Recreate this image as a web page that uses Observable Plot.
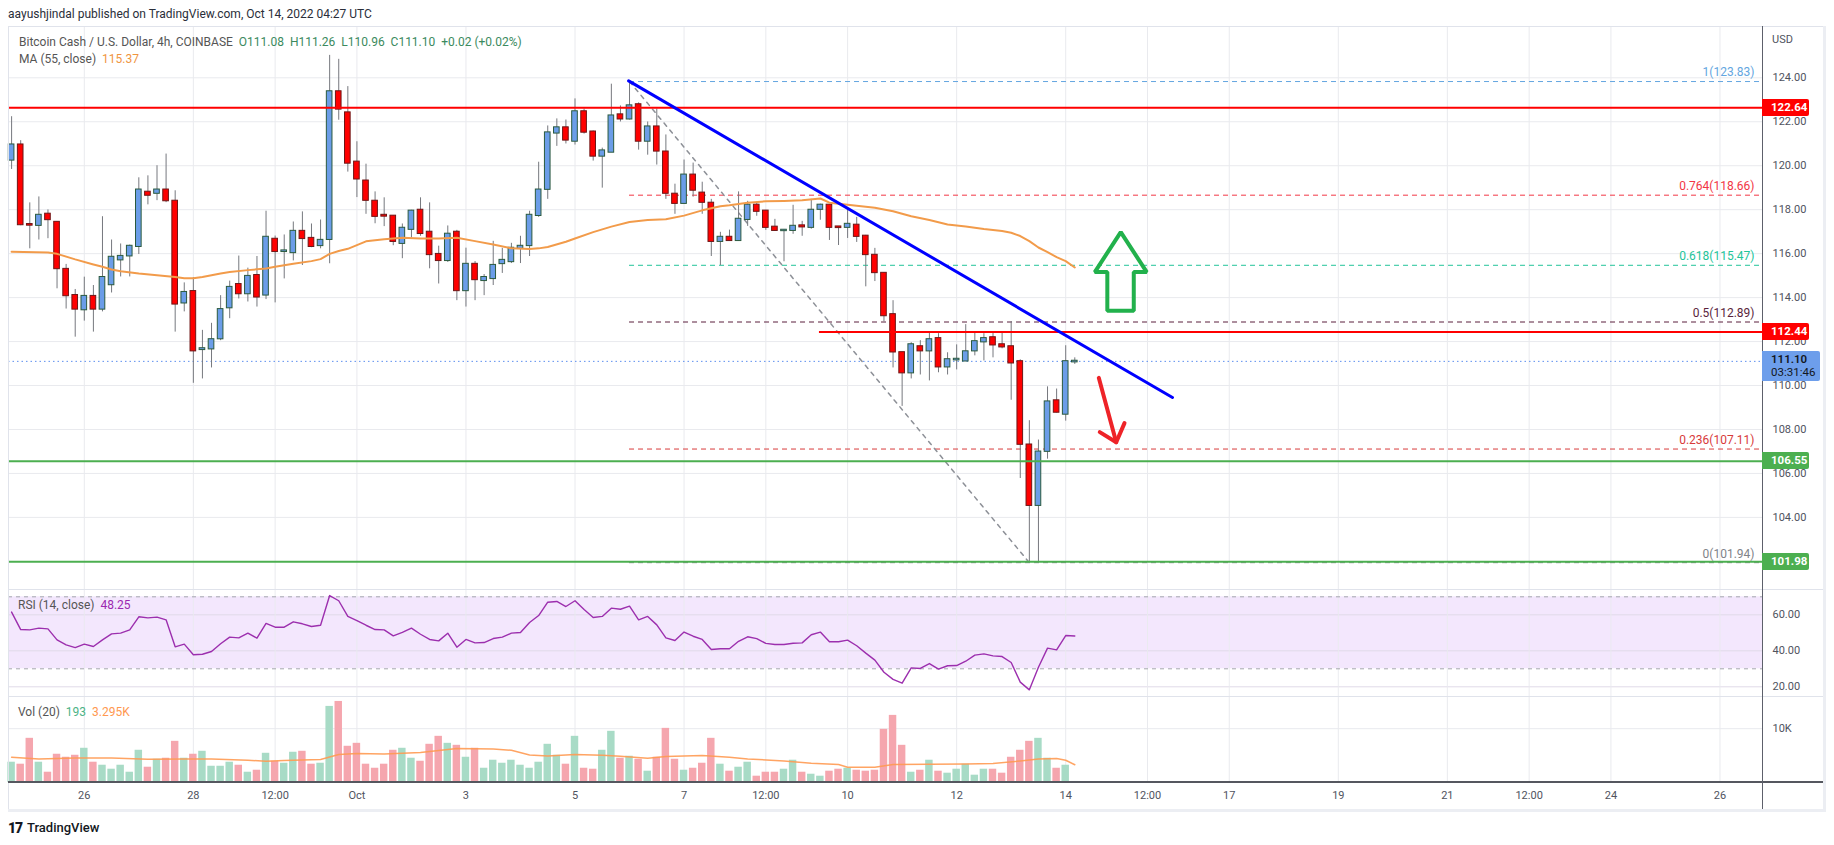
<!DOCTYPE html>
<html><head><meta charset="utf-8">
<script src="https://cdn.jsdelivr.net/npm/d3@7"></script>
<script src="https://cdn.jsdelivr.net/npm/@observablehq/plot@0.6"></script>
<style>
html,body{margin:0;padding:0;background:#fff;}
body{width:1834px;height:845px;position:relative;overflow:hidden;font-family:Roboto,"Liberation Sans",Arial,sans-serif;color:#50535e;}
.abs{position:absolute;white-space:nowrap;}
.tag{position:absolute;left:1762px;width:47px;height:17px;line-height:17px;color:#fff;font-size:11.5px;font-weight:bold;padding-left:9px;box-sizing:border-box;border-radius:0 2px 2px 0;}
</style></head><body>
<script>
// ---------- DATA (4h bars, Bitcoin Cash / USD, COINBASE) ----------
// bar index 0 = 2022-09-26 00:00 UTC; first bar -8 = 2022-09-24 16:00, last 109 = 2022-10-14 04:00
const barIndex = d3.range(-8, 110);
const open = [120.26,120.94,117.32,117.29,117.79,117.42,115.28,114.09,113.45,114.05,113.48,114.59,115.72,115.90,116.33,118.79,118.75,118.89,118.38,113.76,114.27,111.64,111.67,112.13,113.54,114.59,114.18,115.00,114.12,116.65,116.10,116.05,117.01,116.69,116.37,116.65,123.36,122.40,120.16,119.30,118.38,117.74,117.70,116.47,117.11,117.97,116.97,115.96,115.69,116.97,114.32,115.51,114.78,114.87,115.55,115.64,116.24,116.37,117.74,118.93,121.49,121.72,121.12,122.45,121.53,120.44,120.62,122.31,122.13,122.77,121.12,121.76,120.62,118.70,118.29,119.57,118.75,118.29,116.56,116.74,116.60,117.56,118.20,117.93,117.20,117.05,117.06,117.26,117.20,118.02,118.20,117.21,117.20,117.29,116.79,115.92,115.10,113.22,111.49,110.58,111.76,111.58,112.13,110.85,111.17,111.12,111.58,111.99,112.17,111.85,111.76,111.08,107.29,104.55,107.01,109.30,108.70,111.08];
const high = [122.23,121.14,118.31,118.58,117.99,117.45,115.51,114.37,114.93,114.55,117.68,116.62,116.44,116.39,119.45,119.54,120.00,120.53,118.86,114.67,114.91,112.51,112.83,114.09,114.75,115.89,115.34,115.87,117.93,116.80,116.85,117.44,117.90,117.35,117.53,125.02,124.84,123.60,121.09,120.07,118.81,118.54,117.72,117.35,117.97,118.54,118.31,116.34,117.26,117.06,116.25,115.64,115.05,116.56,116.24,116.47,116.79,117.93,120.16,121.81,122.13,122.08,123.04,122.58,121.58,120.80,123.71,122.72,123.83,122.86,121.99,122.58,121.40,119.16,120.26,120.12,119.25,118.47,116.97,117.07,118.81,118.38,118.34,117.97,117.56,117.10,118.20,117.47,118.47,118.25,118.22,117.22,118.02,117.65,116.83,116.24,115.14,113.86,111.51,111.95,112.04,112.40,112.36,111.49,111.85,112.77,112.40,112.36,112.40,112.40,112.91,111.17,108.40,107.52,109.94,109.84,111.81,111.26];
const low = [119.83,117.27,116.22,116.62,116.68,114.40,113.48,112.20,112.93,112.43,113.35,114.21,114.94,114.94,115.96,118.22,118.41,118.32,112.43,113.35,110.10,110.30,110.80,112.04,113.04,113.94,113.80,113.57,113.91,113.76,114.85,115.67,115.46,116.27,116.22,115.54,122.07,119.71,118.55,117.79,117.36,117.23,116.36,115.77,116.72,116.79,115.31,114.62,115.60,113.86,113.57,113.86,114.09,114.55,115.10,115.55,115.55,115.87,117.65,118.47,120.88,120.99,120.94,121.44,120.21,118.98,120.60,121.99,122.08,120.71,120.48,120.03,118.47,117.79,118.25,118.57,117.79,115.87,115.46,116.56,116.56,117.24,117.70,117.06,117.01,115.63,116.88,116.79,117.11,117.52,116.60,116.37,116.69,116.51,114.49,114.73,112.90,110.80,109.05,110.30,110.48,110.21,110.58,110.48,110.71,111.10,111.35,111.12,111.26,111.67,109.33,105.77,101.94,101.98,106.65,108.75,108.38,110.96];
const close = [120.94,117.32,117.30,117.74,117.55,115.32,114.09,113.48,114.05,113.48,114.91,115.83,115.87,116.33,118.89,118.66,118.89,118.41,113.71,114.23,111.58,111.67,112.08,113.45,114.46,114.18,114.96,114.03,116.74,116.10,116.12,117.01,116.69,116.33,116.60,123.36,122.58,120.12,119.40,118.43,117.70,117.71,116.56,117.15,117.93,116.92,115.96,115.69,116.88,114.32,115.51,114.82,114.91,115.46,115.69,116.24,116.33,117.74,118.89,121.49,121.72,121.17,122.45,121.53,120.44,120.67,122.26,122.13,122.72,121.12,121.76,120.67,118.75,118.29,119.57,118.89,118.34,116.56,116.74,116.60,117.56,118.20,117.93,117.20,117.06,117.06,117.24,117.22,117.97,118.20,117.20,117.19,117.33,116.79,115.96,115.14,113.18,111.53,110.58,111.85,111.58,112.08,110.85,111.17,111.19,111.53,111.99,112.13,111.85,111.76,111.03,107.33,104.55,106.97,109.25,108.79,111.08,111.10];
const volumeK = [3.77,3.40,8.21,3.77,1.91,5.25,4.69,5.06,6.36,3.77,3.21,2.47,3.21,1.91,5.99,2.84,4.32,4.51,7.65,4.51,5.25,5.80,3.02,3.02,3.77,3.21,1.91,2.28,5.43,3.95,3.58,5.62,5.80,3.40,3.58,14.14,15.06,6.73,7.28,3.40,2.65,3.40,5.99,6.36,4.51,3.95,7.10,8.58,7.28,6.91,4.69,6.36,2.65,4.14,3.58,4.14,3.21,2.65,3.77,7.10,
  5.06,3.40,8.58,2.65,2.47,5.99,9.51,4.51,4.88,4.32,2.10,4.69,10.06,4.32,2.28,2.65,3.58,8.21,3.40,2.10,2.84,3.77,1.17,1.91,1.91,2.47,4.14,1.91,1.54,1.17,2.10,2.47,2.65,2.28,2.10,2.28,9.88,12.47,6.91,1.91,2.28,4.14,2.10,1.73,2.47,3.40,1.36,2.47,2.47,1.73,4.69,5.99,7.65,8.21,4.51,2.65,3.21,0.193];
const rsi14 = [61.5,51.8,51.6,52.6,52.2,46.1,43.3,41.8,43.7,42.4,46.1,49.4,49.8,51.6,58.9,58.3,58.7,57.2,42.2,43.7,37.8,38.1,39.6,43.9,47.6,47.2,49.8,47.0,55.2,53.1,53.1,56.1,55.0,53.5,54.2,70.7,67.8,59.1,56.8,54.2,51.8,51.6,48.3,50.2,52.6,49.2,46.3,45.5,49.8,42.0,46.3,44.4,44.6,46.8,47.6,49.8,50.2,55.7,59.6,67.0,
  67.4,64.6,67.8,62.9,58.5,59.1,63.7,63.1,64.8,57.2,59.1,54.4,47.2,45.7,50.4,48.1,46.3,40.7,41.1,41.1,45.3,47.8,46.8,44.1,43.5,43.5,44.2,44.4,48.9,50.4,45.0,45.0,45.9,42.8,38.7,34.8,28.1,24.1,22.0,30.5,30.2,32.9,29.8,31.7,31.8,34.2,37.6,38.3,37.2,36.8,33.5,22.6,18.3,30.9,41.5,40.5,48.5,48.25];
// MA(55, close) read at selected bars: [bar, value]
const ma55 = [[-8,116.09],[-4,116.05],[-3,115.99],[-1,115.74],[1,115.51],[2,115.40],[3,115.28],[4,115.20],[6,115.10],[8,115.02],[10,114.94],[11,114.88],[12,114.88],[13,114.94],[14,115.02],[15,115.10],[16,115.16],[18,115.25],[20,115.32],[21,115.40],[23,115.54],[25,115.66],[26,115.75],[27,115.99],[28,116.12],[29,116.22],[30,116.39],[31,116.56],[33,116.65],[35,116.72],[37,116.69],[39,116.69],[41,116.72],[43,116.57],[45,116.42],[47,116.24],[49,116.21],[50,116.24],[51,116.30],[53,116.54],[54,116.69],[56,116.98],[58,117.23],[60,117.44],[62,117.53],[64,117.56],[66,117.73],[68,117.97],[70,118.16],[71,118.20],[73,118.32],[75,118.38],[77,118.40],[79,118.43],[81,118.51],[82,118.32],[84,118.22],[87,118.09],[89,117.93],[91,117.70],[93,117.53],[95,117.33],[97,117.23],[99,117.12],[101,117.03],[102,116.95],[103,116.80],[104,116.57],[105,116.28],[106,116.07],[107,115.84],[108,115.66],[109,115.37]];
// Volume MA(20), K
const volMa20 = [[-8,4.69],[-5,4.38],[-1,4.57],[3,4.57],[7,4.32],[11,4.38],[14,4.38],[18,4.14],[20,3.95],[22,4.07],[26,4.26],[28,5.19],[30,5.37],[33,5.31],[37,5.56],[41,6.30],[45,6.23],[47,5.99],[49,5.12],[51,4.94],[54,5.19],[57,5.06],[59,4.88],[62,4.51],[64,4.81],[68,5.00],[71,4.69],[73,4.38],[77,4.01],[80,3.58],[83,3.33],[84,2.84],[87,2.84],[89,3.33],[93,3.40],[97,3.46],[100,3.52],[103,4.01],[105,4.38],[107,4.44],[108,4.14],[109,3.30]];
const timeTickBars = [0,12,21,30,42,54,66,75,84,96,108,117,126,138,150,159,168,180];
const timeTickLabels = ["26","28","12:00","Oct","3","5","7","12:00","10","12","14","12:00","17","19","21","12:00","24","26"];
const priceTicks = [104,106,108,110,112,114,116,118,120,122,124];
const rsiTicks = [20,40,60];
const volTicks = [10];
// drawings
const resistanceLevels = [122.64, 112.44];
const resistanceFrom = [-8.342, 80.9];
const supportLevels = [106.55, 101.98];
const fibRatios = ["1","0.764","0.618","0.5","0.236","0"];
const fibPrices = [123.83,118.66,115.47,112.89,107.11,101.94];
const fibFrom = 60;
const fibAnchors = [[60,123.83],[104,101.94]];
const trendLine = [[59.9,123.86],[119.75,109.455]];
const upArrow = [[114.06,116.98],[116.92,115.16],[115.49,115.16],[115.49,113.40],[112.58,113.40],[112.58,115.16],[111.2,115.16]];
const downArrow = [[0,111.64,110.35],[0,113.56,107.42],[1,111.75,107.88],[1,113.56,107.42],[1,114.47,108.29]];
const lastPrice = 111.10;

// ---------- STYLES ----------
const fibColors = ["#64a6e0","#f23645","#22c49a","#5a1f3c","#d83a3a","#808389"];
const grid = "#e9eaee";
const font = "Roboto, 'Liberation Sans', sans-serif";
const X0 = -8.342, X1 = 184.68;

const bars = barIndex.map((i,k)=>({i, o:open[k], h:high[k], l:low[k], c:close[k], v:volumeK[k], r:rsi14[k], up: close[k] >= open[k]}));
const visTicks = timeTickBars.filter(t => t <= X1);
const xOpt = {type:"linear", domain:[X0, X1], axis:null};
const common = {width:1834, marginLeft:8, marginRight:72, marginTop:0, color:{type:"identity"},
  style:{background:"transparent", overflow:"visible", fontFamily:font, fontSize:"11px", color:"#50535e"}};

function place(svg, top){ svg.style.position="absolute"; svg.style.left="0px"; svg.style.top=top+"px"; svg.style.maxWidth="none"; document.body.appendChild(svg); }

const fib = fibPrices.map((p,k)=>({p, ratio:fibRatios[k], color:fibColors[k]}));

const pricePlot = Plot.plot({...common, height:563, marginBottom:0, x:xOpt,
  y:{domain:[100.72,126.334], axis:"right", ticks:priceTicks, tickSize:0, tickPadding:10, tickFormat:d=>d.toFixed(2), label:null},
  marks:[
    Plot.ruleY(priceTicks,{stroke:grid}),
    Plot.ruleX(visTicks,{stroke:grid}),
    Plot.ruleY([lastPrice],{stroke:"#5b8def", strokeDasharray:"1.5,3"}),
    Plot.ruleY(fib,{y:"p", x1:()=>fibFrom, x2:()=>X1, stroke:"color", strokeDasharray:"5,4"}),
    Plot.text(fib,{x:()=>X1, y:"p", text:d=>`${d.ratio}(${d.p.toFixed(2)})`, textAnchor:"end", dx:-8, dy:-9, fill:"color", fontSize:12}),
    Plot.line(fibAnchors,{x:d=>d[0], y:d=>d[1], stroke:"#8d9097", strokeWidth:1.5, strokeDasharray:"4,5"}),
    Plot.ruleX(bars,{x:"i", y1:"l", y2:"h", stroke:"#76787e"}),
    Plot.rect(bars,{x1:d=>d.i-0.31, x2:d=>d.i+0.31, y1:"o", y2:"c", fill:d=>d.up?"#6b9de8":"#ff0000", stroke:d=>d.up?"#2b5a3e":"#6e1616", insetTop:-0.6, insetBottom:-0.6}),
    Plot.line(ma55,{x:d=>d[0], y:d=>d[1], stroke:"#f29b4a", strokeWidth:2}),
    Plot.ruleY(resistanceLevels.map((p,k)=>({p, from:resistanceFrom[k]})),{y:"p", x1:"from", x2:()=>X1, stroke:"#ff0000", strokeWidth:2}),
    Plot.ruleY(supportLevels,{stroke:"#4caf50", strokeWidth:2}),
    Plot.line(trendLine,{x:d=>d[0], y:d=>d[1], stroke:"#0000ff", strokeWidth:3}),
    Plot.line(upArrow,{x:d=>d[0], y:d=>d[1], curve:"linear-closed", stroke:"#22b14c", strokeWidth:4, strokeLinejoin:"miter"}),
    Plot.line(downArrow,{x:d=>d[1], y:d=>d[2], z:d=>d[0], stroke:"#ee2328", strokeWidth:4, strokeLinecap:"round", strokeLinejoin:"round"})
  ]});
place(pricePlot, 26);

const rsiPlot = Plot.plot({...common, height:107, marginBottom:0, x:xOpt,
  y:{domain:[14.61,74.06], axis:"right", ticks:rsiTicks, tickSize:0, tickPadding:10, tickFormat:d=>d.toFixed(2), label:null},
  marks:[
    Plot.rect([0],{x1:()=>X0, x2:()=>X1, y1:()=>30, y2:()=>70, fill:"#f3e7fd"}),
    Plot.ruleY(rsiTicks,{stroke:"#e0dbe8"}),
    Plot.ruleX(visTicks,{stroke:grid, strokeOpacity:0.9}),
    Plot.ruleY([70,30],{stroke:"#a5a7ae", strokeDasharray:"4,4"}),
    Plot.line(bars,{x:"i", y:"r", stroke:"#9c2fae", strokeWidth:1.4})
  ]});
place(rsiPlot, 589);

const volPlot = Plot.plot({...common, height:113, marginBottom:27,
  x:{...xOpt, axis:"bottom", ticks:timeTickBars, tickSize:0, tickPadding:9, tickFormat:d=>timeTickLabels[timeTickBars.indexOf(d)], label:null},
  y:{domain:[0,15.98], axis:"right", ticks:volTicks, tickSize:0, tickPadding:10, tickFormat:d=>d+"K", label:null},
  marks:[
    Plot.ruleY(volTicks,{stroke:grid}),
    Plot.ruleX(visTicks,{stroke:grid}),
    Plot.rect(bars,{x1:d=>d.i-0.41, x2:d=>d.i+0.41, y1:()=>0, y2:"v", fill:d=>d.up?"#a8dbc6":"#f5a6ae"}),
    Plot.line(volMa20,{x:d=>d[0], y:d=>d[1], stroke:"#ff9a52", strokeWidth:1.5, strokeOpacity:0.9})
  ]});
place(volPlot, 696);

// ---------- frame, texts, tags ----------
function div(css, html){ const d=document.createElement("div"); d.className="abs"; d.style.cssText=css; if(html!==undefined) d.innerHTML=html; document.body.appendChild(d); return d; }
div("left:8px;top:26px;width:1818px;height:1px;background:#e0e3eb;");
div("left:8px;top:26px;width:1px;height:783px;background:#e0e3eb;");
div("left:1823px;top:26px;width:3px;height:786px;background:#eceef3;");
div("left:8px;top:809px;width:1818px;height:3px;background:#eceef3;");
div("left:8px;top:589px;width:1815px;height:1px;background:#e0e3eb;");
div("left:8px;top:696px;width:1815px;height:1px;background:#e0e3eb;");
div("left:8px;top:781px;width:1815px;height:2px;background:#55575f;");
div("left:1762px;top:26px;width:1px;height:783px;background:#5d606b;");

div("left:8px;top:7px;font-size:12px;color:#2a2e39;", "aayushjindal published on TradingView.com, Oct 14, 2022 04:27 UTC");
const g = "#3b8a5e";
div("left:19px;top:35px;font-size:12px;color:#555;", `Bitcoin Cash / U.S. Dollar, 4h, COINBASE&nbsp;&nbsp;<span style="color:${g}">O111.08&nbsp;&nbsp;H111.26&nbsp;&nbsp;L110.96&nbsp;&nbsp;C111.10&nbsp;&nbsp;+0.02 (+0.02%)</span>`);
div("left:19px;top:52px;font-size:12px;color:#555;", `MA (55, close)&nbsp;&nbsp;<span style="color:#f0953f">115.37</span>`);
div("left:18px;top:598px;font-size:12px;color:#555;", `RSI (14, close)&nbsp;&nbsp;<span style="color:#9c27b0">48.25</span>`);
div("left:18px;top:705px;font-size:12px;color:#555;", `Vol (20)&nbsp;&nbsp;<span style="color:#4cb386">193</span>&nbsp;&nbsp;<span style="color:#ff9850">3.295K</span>`);
div("left:1772px;top:33px;font-size:11px;color:#50535e;", "USD");

const ys = pricePlot.scale("y");
const yPage = v => 26 + ys.apply(v);
function tag(v, bg){ const d=document.createElement("div"); d.className="tag"; d.style.top=(yPage(v)-8.5)+"px"; d.style.background=bg; d.textContent=v.toFixed(2); document.body.appendChild(d); }
tag(122.64, "#ff0000");
tag(112.44, "#ff0000");
tag(106.55, "#4caf50");
tag(101.98, "#4caf50");
const bt = div(`left:1762px;top:${yPage(lastPrice)-10}px;width:58px;height:30px;background:#6d9eeb;color:#131722;font-size:11.5px;line-height:13px;padding:2px 0 0 9px;box-sizing:border-box;border-radius:0 2px 2px 0;`, `<b style="font-weight:600">${lastPrice.toFixed(2)}</b><br>03:31:46`);

div("left:8px;top:820px;font-size:14px;font-weight:900;color:#131722;letter-spacing:-1px;", "17");
div("left:27px;top:820px;font-size:13px;font-weight:500;color:#131722;", "TradingView");
</script>
</body></html>
